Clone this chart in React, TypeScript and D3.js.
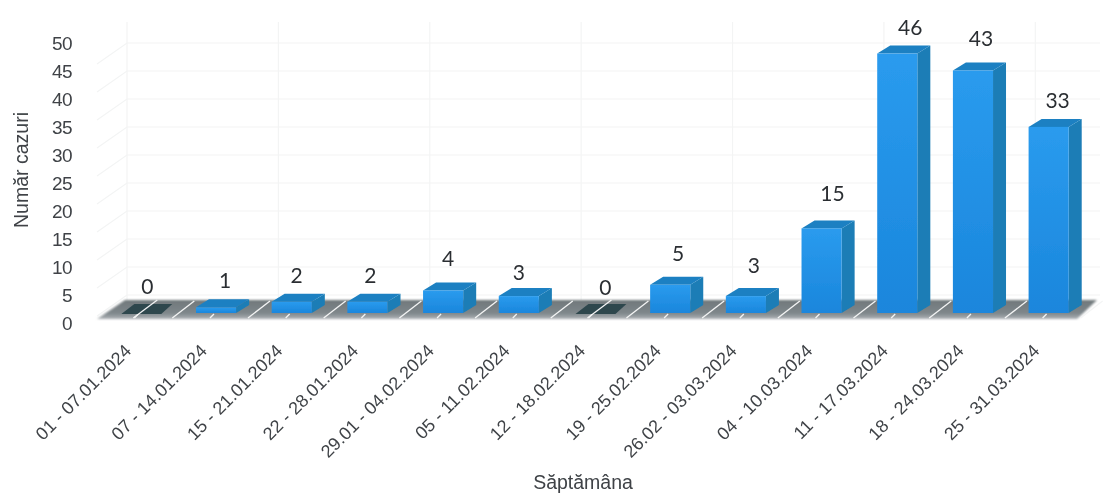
import React from "react";
import * as d3 from "d3";

const weeks = ["01 - 07.01.2024","07 - 14.01.2024","15 - 21.01.2024","22 - 28.01.2024","29.01 - 04.02.2024","05 - 11.02.2024","12 - 18.02.2024","19 - 25.02.2024","26.02 - 03.03.2024","04 - 10.03.2024","11 - 17.03.2024","18 - 24.03.2024","25 - 31.03.2024"];
const cases = [0,1,2,2,4,3,0,5,3,15,46,43,33];
const yTicks = [0,5,10,15,20,25,30,35,40,45,50];

// Hand placement of the value labels above each bar, separate from the data.
const labelShiftX = [27,29,25,23,25,20,31,28,28,31,33,28,29];
const labelLift = [19,19,19,19,24,16,18,24,23,27,19,24,19];

const W = 1103, H = 495;
const depthX = 13, depthY = 8;
const floorY = 313;
const x = d3.scaleBand<string>().domain(weeks).range([102.5, 1086.5]).paddingInner(0.47).paddingOuter(0.235);
const y = d3.scaleLinear().domain([0, 50]).range([floorY, floorY - 282]);
const tickY = d3.scaleLinear().domain([0, 50]).range([323, 43]);
const sans = "'Liberation Sans', Arial, sans-serif";
const labelFont = "Lato, 'Open Sans', sans-serif";
const ink = "#3f4347";

export default function App() {
  const bw = x.bandwidth();
  const step = x.step();
  const left0 = x(weeks[0])!;
  const boundaries = d3.range(weeks.length + 1).map(i => left0 + 52 + i * step);
  return (
    <svg width={W} height={H} viewBox={`0 0 ${W} ${H}`} style={{ position: "absolute", left: 0, top: 0, background: "#fff" }}>
      <defs>
        <linearGradient id="front" x1="0" y1="0" x2="0" y2="1">
          <stop offset="0" stopColor="#2a9bee" />
          <stop offset="1" stopColor="#1a86dc" />
        </linearGradient>
        <linearGradient id="floor" x1="0" y1="0" x2="0" y2="1">
          <stop offset="0" stopColor="#70787b" />
          <stop offset="0.7" stopColor="#7f878b" />
          <stop offset="1" stopColor="#aeb3b7" />
        </linearGradient>
        <filter id="soft" x="-5%" y="-5%" width="110%" height="110%"><feGaussianBlur stdDeviation="0.55" /></filter>
        <filter id="softer" x="-5%" y="-30%" width="110%" height="160%"><feGaussianBlur stdDeviation="1.2" /></filter>
        <filter id="text" x="-10%" y="-10%" width="120%" height="120%"><feGaussianBlur stdDeviation="0.35" /></filter>
      </defs>

      <g stroke="#f3f4f4" strokeWidth={1.2} fill="none">
        {yTicks.slice(1).map(t => (
          <path key={t} d={`M97,${tickY(t) + 21}L127,${tickY(t)}H1100`} />
        ))}
        {d3.range(7).map(i => <line key={i} x1={127 + i * 2 * step} x2={127 + i * 2 * step} y1={22} y2={300} />)}
      </g>

      <path d={`M97,319L125,300H1097L1077,319Z`} fill="url(#floor)" filter="url(#softer)" />
      <g stroke="#f4f5f5" strokeWidth={1.3} filter="url(#text)">
        {boundaries.slice(0, -1).map((b, i) => (
          <line key={i} x1={b} y1={318} x2={b + 22} y2={301} />
        ))}
        {weeks.map(w => (
          <line key={w} x1={x(w)! + 14} y1={318} x2={x(w)! + 18} y2={314} />
        ))}
      </g>

      <g filter="url(#soft)">
        {weeks.map((w, i) => {
          const v = cases[i];
          const bx = x(w)!;
          const top = y(v);
          if (v === 0) {
            return (
              <g key={w}>
                <path d={`M${bx + 1},${floorY + 1}L${bx + 14},${floorY - depthY - 1}H${bx + 52}L${bx + 41},${floorY + 1}Z`} fill="#2f474e" />
                <line x1={bx + 13} y1={318} x2={bx + 37} y2={300} stroke="#f4f5f5" strokeWidth={1.3} />
              </g>
            );
          }
          return (
            <g key={w}>
              <path d={`M${bx + bw},${top}L${bx + bw + depthX},${top - depthY}V${floorY - depthY}L${bx + bw},${floorY}Z`} fill="#1b7db6" />
              <path d={`M${bx},${top}L${bx + depthX},${top - depthY}H${bx + bw + depthX}L${bx + bw},${top}Z`} fill="#1c80c2" />
              <rect x={bx} y={top} width={bw} height={floorY - top} fill="url(#front)" />
            </g>
          );
        })}
      </g>

      <g filter="url(#text)">
        {weeks.map((w, i) => (
          <text key={w} x={x(w)! + labelShiftX[i]} y={y(cases[i]) - labelLift[i]} textAnchor="middle" fontFamily={labelFont} fontSize={21} fill="#2b2f33">{cases[i]}</text>
        ))}
        {yTicks.map(t => (
          <text key={t} x={72} y={tickY(t) + 7} textAnchor="end" fontFamily={sans} fontSize={19} letterSpacing={-0.6} fill={ink}>{t}</text>
        ))}
        {weeks.map(w => (
          <text key={w} transform={`translate(${x(w)! + 12},352) rotate(-45)`} textAnchor="end" fontFamily={sans} fontSize={18} fill={ink}>{w}</text>
        ))}
        <text transform="translate(28,170) rotate(-90)" textAnchor="middle" fontFamily={sans} fontSize={19.5} fill={ink}>Număr cazuri</text>
        <text x={583} y={489} textAnchor="middle" fontFamily={sans} fontSize={19.5} fill={ink}>Săptămâna</text>
      </g>
    </svg>
  );
}
